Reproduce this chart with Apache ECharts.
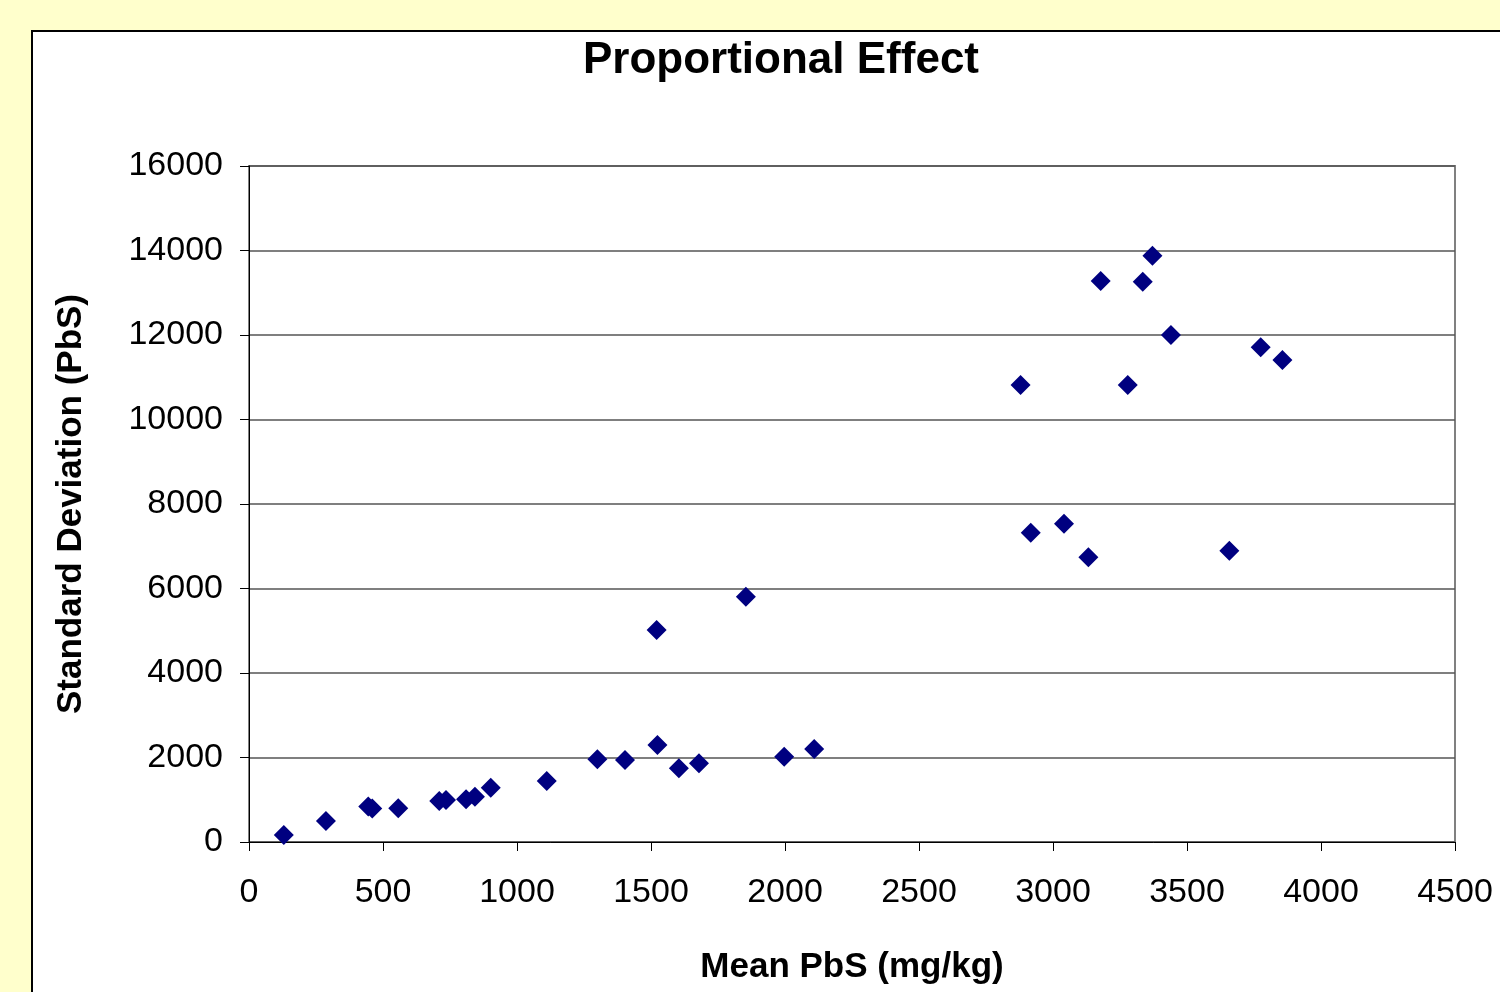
<!DOCTYPE html>
<html>
<head>
<meta charset="utf-8">
<script src="https://cdn.jsdelivr.net/npm/echarts@6/dist/echarts.min.js"></script>
<style>
html,body{margin:0;padding:0;background:#FFFFCC;}
#c{width:1500px;height:992px;}
</style>
</head>
<body>
<div id="c"></div>
<script>
const titleText = "Proportional Effect";
const xName = "Mean PbS (mg/kg)";
const yName = "Standard Deviation (PbS)";
const meanPbS = [130, 287, 445, 460, 557, 710, 735, 810, 843, 902, 1111, 1300, 1403,
  1521, 1854, 1524, 1604, 1679, 1997, 2109,
  3371, 3178, 3335, 3440, 3775, 3856, 2879, 3279, 2917, 3041, 3132, 3658];
const stdDev = [166, 497, 840, 790, 798, 970, 994, 1010, 1072, 1286, 1444, 1957, 1941,
  5018, 5806, 2296, 1744, 1862, 2020, 2201,
  13877, 13278, 13262, 12000, 11709, 11408, 10817, 10817, 7321, 7534, 6738, 6895];
const xMin = 0, xMax = 4500, xStep = 500;
const yMin = 0, yMax = 16000, yStep = 2000;

const points = meanPbS.map((x, i) => [x, stdDev[i]]);
const font = "'Liberation Sans', Arial, sans-serif";
const plain = v => String(v);

const chart = echarts.init(document.getElementById('c'), null, {renderer: 'canvas'});
chart.setOption({
  backgroundColor: '#FFFFCC',
  animation: false,
  graphic: [{
    type: 'rect', z: -10, silent: true,
    shape: {x: 32, y: 31, width: 1500, height: 1000},
    style: {fill: '#FFFFFF', stroke: '#000000', lineWidth: 2}
  }],
  title: {
    text: titleText, left: 776, top: 34, textAlign: 'center',
    textStyle: {fontFamily: font, fontSize: 44, fontWeight: 'bold', color: '#000'}
  },
  grid: {left: 249, right: 45, top: 166, bottom: 150, show: true,
    borderColor: '#808080', borderWidth: 2, backgroundColor: 'transparent'},
  xAxis: {
    type: 'value', min: xMin, max: xMax, interval: xStep,
    name: xName, nameLocation: 'middle', nameGap: 108,
    nameTextStyle: {fontFamily: font, fontSize: 35, fontWeight: 'bold', color: '#000'},
    axisLine: {show: true, onZero: false, lineStyle: {color: '#000', width: 1}},
    axisTick: {show: true, length: 9, inside: false, lineStyle: {color: '#000'}},
    splitLine: {show: false},
    axisLabel: {fontFamily: font, fontSize: 34, color: '#000', margin: 34, formatter: plain}
  },
  yAxis: {
    type: 'value', min: yMin, max: yMax, interval: yStep,
    name: yName, nameLocation: 'middle', nameGap: 160, nameRotate: 90,
    nameTextStyle: {fontFamily: font, fontSize: 35, fontWeight: 'bold', color: '#000'},
    axisLine: {show: true, lineStyle: {color: '#000', width: 1}},
    axisTick: {show: true, length: 9, inside: false, lineStyle: {color: '#000'}},
    splitLine: {show: true, lineStyle: {color: '#555', width: 1.5}},
    axisLabel: {fontFamily: font, fontSize: 34, color: '#000', margin: 26, formatter: plain}
  },
  series: [{
    type: 'scatter', data: points, symbol: 'diamond', symbolSize: 20,
    itemStyle: {color: '#000080', opacity: 1}
  }]
});
</script>
</body>
</html>
